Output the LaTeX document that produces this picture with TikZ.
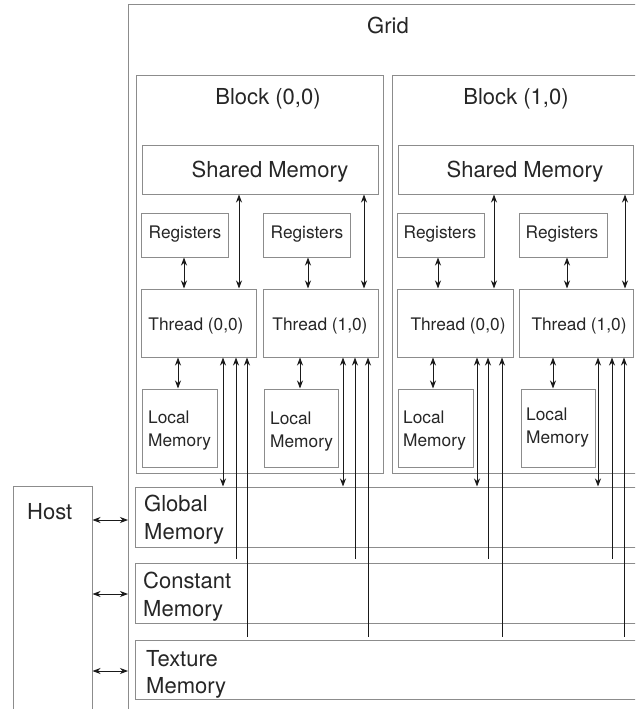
\documentclass[tikz,border=0pt]{standalone}
\usepackage{fontspec}
\setmainfont{TeX Gyre Heros}
\usetikzlibrary{arrows.meta}
\definecolor{boxgray}{HTML}{8C8C8C}
\definecolor{txt}{HTML}{262626}
\definecolor{lnk}{HTML}{1A1A1A}
\tikzset{
  box/.style={draw=boxgray, line width=1pt, rectangle, inner sep=0pt},
  big/.style={font=\fontsize{22}{26}\selectfont, text=txt, inner sep=0pt, anchor=base},
  small/.style={font=\fontsize{17.3}{21}\selectfont, text=txt, inner sep=0pt, anchor=base},
  link/.style={draw=lnk, line width=0.9pt},
  both/.style={link, {Stealth[length=8pt,width=6pt,inset=2.5pt]}-{Stealth[length=8pt,width=6pt,inset=2.5pt]}},
  tothread/.style={link, -{Stealth[length=8pt,width=6pt,inset=2.5pt]}},
}
% rectangle node from its corners: name, x1, y1, x2, y2
\newcommand\mybox[5]{%
  \node[box, minimum width={#4-#2}, minimum height={#5-#3}] (#1)
    at ({(#2+#4)/2},{(#3+#5)/2}) {};}
\begin{document}
\begin{tikzpicture}[x=1pt, y=-1pt]
\useasboundingbox (0,0) rectangle (635,709);
\clip (0,0) rectangle (635,709);
\fill[white] (0,0) rectangle (635,709);

% containers
\mybox{grid}{128.5}{5}{700}{760}
\mybox{blk0}{136}{75}{383}{473}
\mybox{blk1}{392}{75}{700}{473}
\mybox{host}{13}{486}{92}{760}

% shared memories
\mybox{sm0}{142}{145}{378}{194}
\mybox{sm1}{398}{145}{633}{194}

% registers
\mybox{r00}{141}{213}{228}{257}
\mybox{r01}{263}{213}{350}{257}
\mybox{r10}{397}{213}{484}{257}
\mybox{r11}{519}{213}{607}{257}

% threads
\mybox{t00}{141}{289}{256}{357}
\mybox{t01}{263}{289}{378}{357}
\mybox{t10}{397}{289}{513}{357}
\mybox{t11}{519}{289}{633}{357}

% local memories
\mybox{l00}{142}{389}{217}{467}
\mybox{l01}{264}{389}{338}{467}
\mybox{l10}{398}{389}{473}{467}
\mybox{l11}{521}{389}{595}{467}

% device memories
\mybox{glob}{135}{487}{700}{547}
\mybox{cons}{135}{563}{700}{623}
\mybox{tex}{135}{640}{700}{699}

% labels
\node[big] (gridlbl) at (388,34) {Grid};
\node[big] (b0lbl) at (268,104) {Block (0,0)};
\node[big] (b1lbl) at (516,104) {Block (1,0)};
\node[big] (sm0lbl) at (270,177) {Shared Memory};
\node[big] (sm1lbl) at (525,177) {Shared Memory};

\node[small] (r00lbl) at (185,238) {Registers};
\node[small] (r01lbl) at (307,238) {Registers};
\node[small] (r10lbl) at (440,238) {Registers};
\node[small] (r11lbl) at (562,238) {Registers};

\node[small] (t00lbl) at (196,330) {Thread (0,0)};
\node[small] (t01lbl) at (320,330) {Thread (1,0)};
\node[small] (t10lbl) at (458,330) {Thread (0,0)};
\node[small] (t11lbl) at (579,330) {Thread (1,0)};

\node[small, anchor=base west] (l00a) at (148,423) {Local};
\node[small, anchor=base west] (l00b) at (148,446) {Memory};
\node[small, anchor=base west] (l01a) at (270,424) {Local};
\node[small, anchor=base west] (l01b) at (270,447) {Memory};
\node[small, anchor=base west] (l10a) at (403,423) {Local};
\node[small, anchor=base west] (l10b) at (403,446) {Memory};
\node[small, anchor=base west] (l11a) at (526,420) {Local};
\node[small, anchor=base west] (l11b) at (526,443) {Memory};

\node[big, anchor=base west] (globa) at (144,511) {Global};
\node[big, anchor=base west] (globb) at (144,539) {Memory};
\node[big, anchor=base west] (consa) at (143,588) {Constant};
\node[big, anchor=base west] (consb) at (143,616) {Memory};
\node[big, anchor=base west] (texa) at (146,666) {Texture};
\node[big, anchor=base west] (texb) at (146,693) {Memory};
\node[big, anchor=base west] (hostlbl) at (27,519) {Host};

% shared memory <-> thread
\draw[both] (sm0.south -| 239,0) -- (t00.north -| 239,0);
\draw[both] (sm0.south -| 364,0) -- (t01.north -| 364,0);
\draw[both] (sm1.south -| 494,0) -- (t10.north -| 494,0);
\draw[both] (sm1.south -| 625,0) -- (t11.north -| 625,0);

% registers <-> thread
\draw[both] (r00.south -| 184,0) -- (t00.north -| 184,0);
\draw[both] (r01.south -| 308,0) -- (t01.north -| 308,0);
\draw[both] (r10.south -| 438,0) -- (t10.north -| 438,0);
\draw[both] (r11.south -| 567,0) -- (t11.north -| 567,0);

% thread <-> local memory
\draw[both] (t00.south -| 178,0) -- (l00.north -| 178,0);
\draw[both] (t01.south -| 300,0) -- (l01.north -| 300,0);
\draw[both] (t10.south -| 433,0) -- (l10.north -| 433,0);
\draw[both] (t11.south -| 553,0) -- (l11.north -| 553,0);

% thread <-> global memory
\draw[both] (t00.south -| 223,0) -- (glob.north -| 223,0);
\draw[both] (t01.south -| 343,0) -- (glob.north -| 343,0);
\draw[both] (t10.south -| 477,0) -- (glob.north -| 477,0);
\draw[both] (t11.south -| 598,0) -- (glob.north -| 598,0);

% constant memory -> thread
\draw[tothread, shorten <=4pt] (cons.north -| 236,0) -- (t00.south -| 236,0);
\draw[tothread, shorten <=4pt] (cons.north -| 355,0) -- (t01.south -| 355,0);
\draw[tothread, shorten <=4pt] (cons.north -| 488,0) -- (t10.south -| 488,0);
\draw[tothread, shorten <=4pt] (cons.north -| 612,0) -- (t11.south -| 612,0);

% texture memory -> thread
\draw[tothread, shorten <=3pt] (tex.north -| 247,0) -- (t00.south -| 247,0);
\draw[tothread, shorten <=3pt] (tex.north -| 368,0) -- (t01.south -| 368,0);
\draw[tothread, shorten <=3pt] (tex.north -| 502,0) -- (t10.south -| 502,0);
\draw[tothread, shorten <=3pt] (tex.north -| 624,0) -- (t11.south -| 624,0);

% host <-> device memories
\draw[both] (host.east |- 0,520) -- (grid.west |- 0,520);
\draw[both] (host.east |- 0,594) -- (grid.west |- 0,594);
\draw[both] (host.east |- 0,671) -- (grid.west |- 0,671);
\end{tikzpicture}
\end{document}
